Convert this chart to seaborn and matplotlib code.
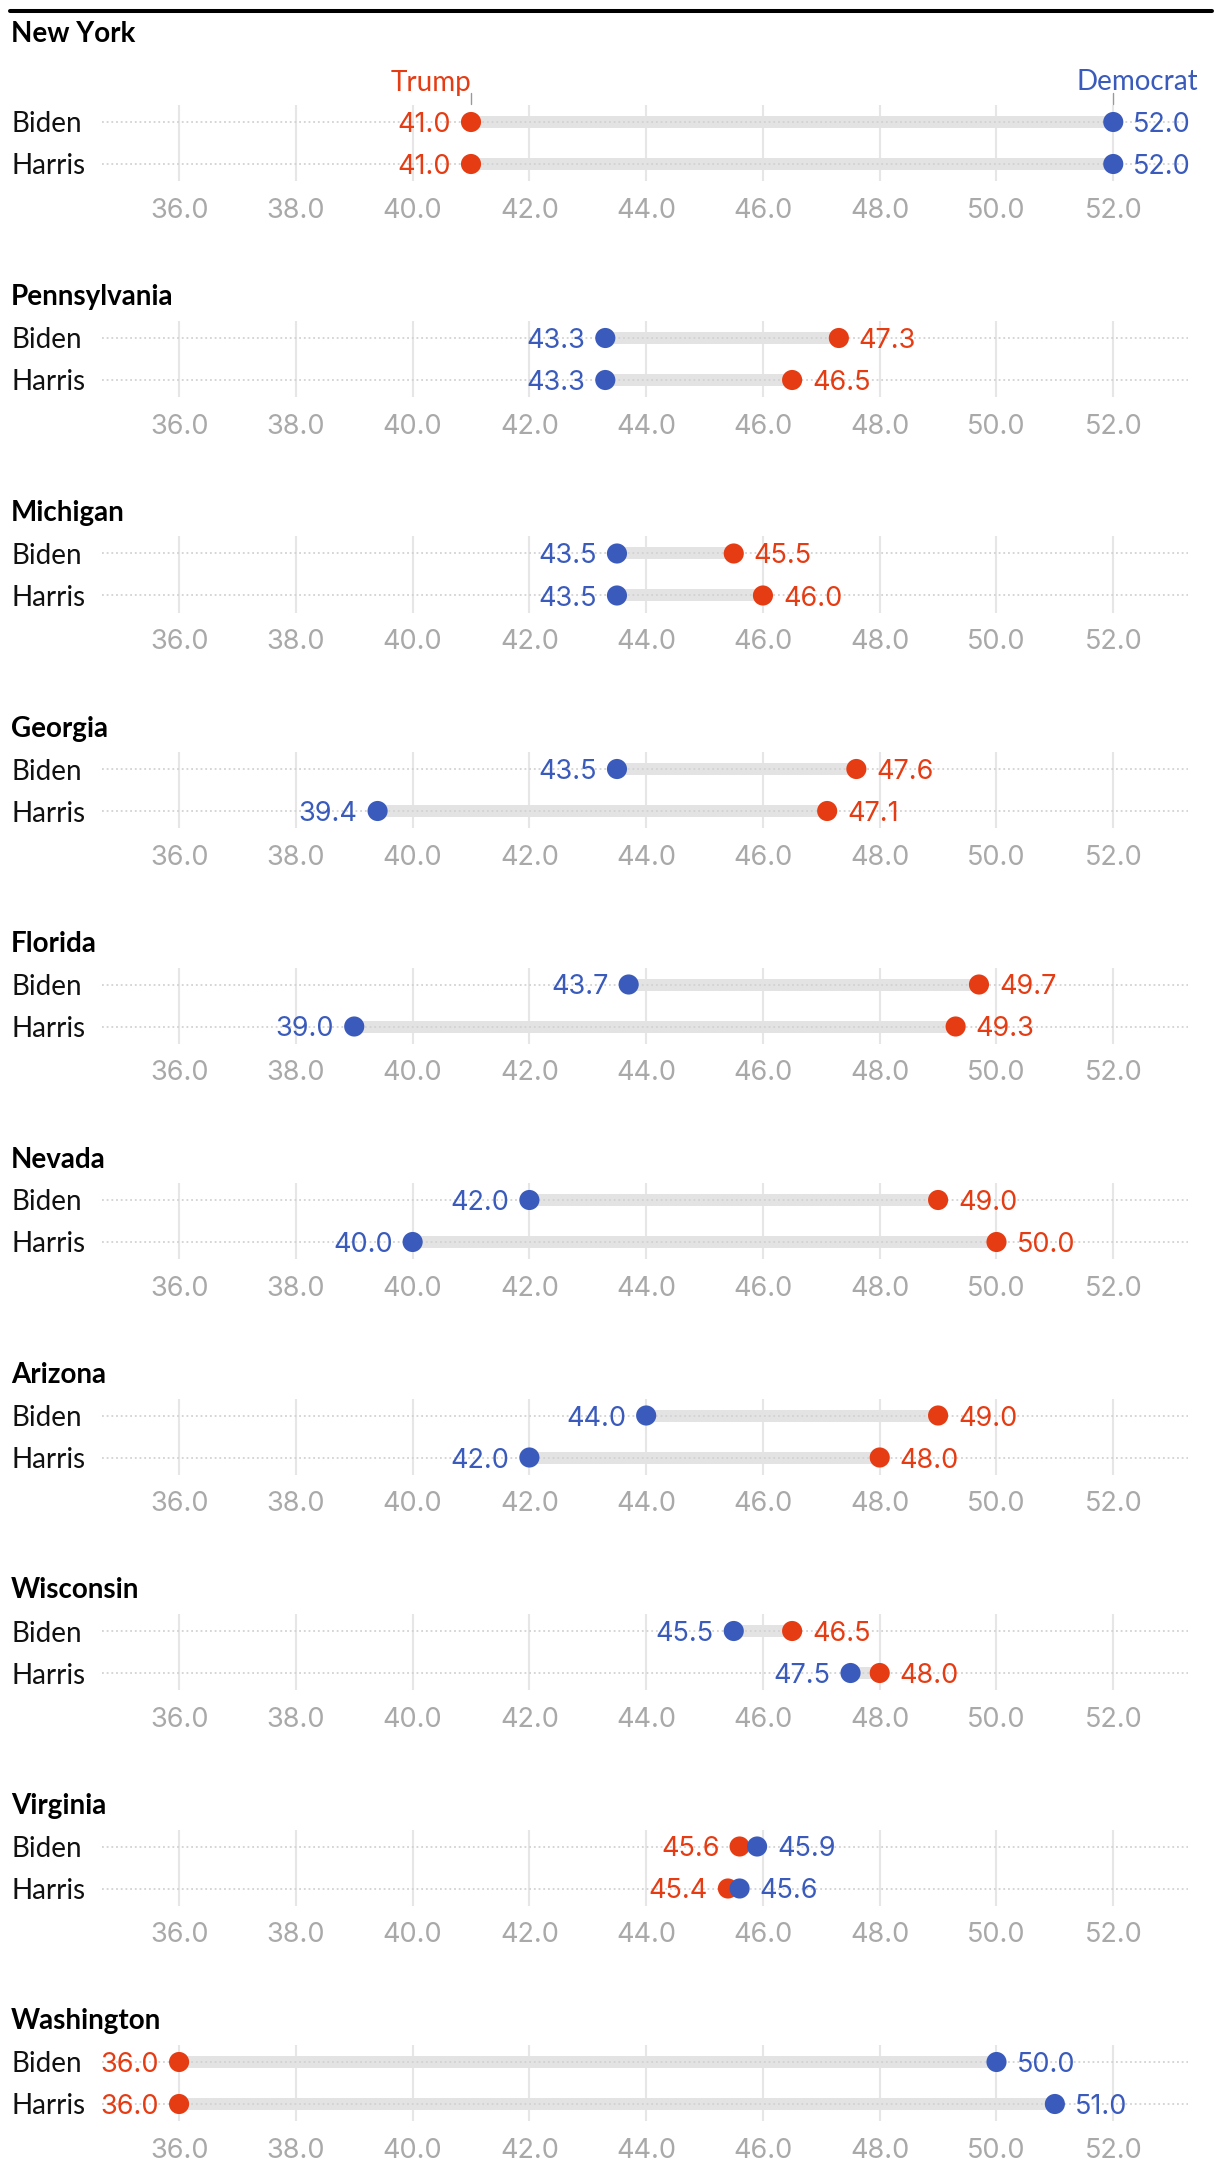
import matplotlib
matplotlib.use("Agg")
import matplotlib.pyplot as plt
import matplotlib.transforms as mtransforms
from matplotlib.lines import Line2D
import seaborn as sns
import pandas as pd

# ---------------- data ----------------
states = ["New York", "Pennsylvania", "Michigan", "Georgia", "Florida",
          "Nevada", "Arizona", "Wisconsin", "Virginia", "Washington"]
matchups = ["Biden", "Harris"]
trump_vs_biden = [41.0, 47.3, 45.5, 47.6, 49.7, 49.0, 49.0, 46.5, 45.6, 36.0]
dem_biden = [52.0, 43.3, 43.5, 43.5, 43.7, 42.0, 44.0, 45.5, 45.9, 50.0]
trump_vs_harris = [41.0, 46.5, 46.0, 47.1, 49.3, 50.0, 48.0, 48.0, 45.4, 36.0]
dem_harris = [52.0, 43.3, 43.5, 39.4, 39.0, 40.0, 42.0, 47.5, 45.6, 51.0]
x_ticks = [36.0, 38.0, 40.0, 42.0, 44.0, 46.0, 48.0, 50.0, 52.0]
tick_labels = [f"{t:.1f}" for t in x_ticks]

RED = "#e53c13"
BLUE = "#3a5bbc"
BAR = "#e3e3e3"
GRID = "#e6e6e6"
DOT = "#d2d2d2"
TICK = "#a9a9a9"
TXT = "#111111"

sns.set_theme(style="white")
plt.rcParams["font.family"] = ["Lato", "DejaVu Sans"]
NUMFONT = ["Inter", "Lato", "DejaVu Sans"]

W, H = 1220, 2172
fig = plt.figure(figsize=(W / 100, H / 100), dpi=100)

# top black rule
fig.add_artist(Line2D([10 / W, 1212 / W], [1 - 11 / H, 1 - 11 / H],
                      transform=fig.transFigure, color="black", lw=2.9))

AX_L, AX_R = 102, 1188
XLIM = (34.68, 53.28)
ROWGAP = 42.0
PADPX = 17.0

for k, st in enumerate(states):
    if k == 0:
        title_y, biden_y = 31.0, 122.0
    else:
        title_y = 295.0 + (k - 1) * 215.5
        biden_y = title_y + 43.0
    harris_y = biden_y + ROWGAP
    top = biden_y - PADPX
    bot = harris_y + PADPX
    ax = fig.add_axes([AX_L / W, 1 - bot / H, (AX_R - AX_L) / W, (bot - top) / H])
    ax.set_xlim(*XLIM)
    ax.set_ylim(1 + PADPX / ROWGAP, -PADPX / ROWGAP)

    fig.text(11 / W, 1 - title_y / H, st, fontsize=20, fontweight="bold",
             color="black", va="center_baseline", ha="left")

    rows = pd.DataFrame({
        "matchup": matchups,
        "pos": [0, 1],
        "trump": [trump_vs_biden[k], trump_vs_harris[k]],
        "dem": [dem_biden[k], dem_harris[k]],
    })
    long = pd.concat([
        rows.assign(party="Trump", value=rows["trump"]),
        rows.assign(party="Democrat", value=rows["dem"]),
    ], ignore_index=True)

    # grid & row guides
    ax.set_xticks(x_ticks)
    ax.set_xticklabels(tick_labels, fontfamily=NUMFONT)
    ax.grid(axis="x", color=GRID, lw=1.5, zorder=0)
    ax.grid(axis="y", visible=False)
    ax.set_yticks([])
    ax.tick_params(axis="x", length=0, pad=12, labelsize=19.5, labelcolor=TICK)
    for s in ax.spines.values():
        s.set_visible(False)
    ax.set_facecolor("none")

    for _, r in rows.iterrows():
        ax.axhline(r["pos"], color=DOT, lw=1.3, linestyle=(0, (1, 1.6)), zorder=2)
        lo, hi = min(r["trump"], r["dem"]), max(r["trump"], r["dem"])
        ax.plot([lo, hi], [r["pos"], r["pos"]], color=BAR, lw=8.6,
                solid_capstyle="butt", zorder=1)

    sns.scatterplot(data=long, x="value", y="pos", hue="party",
                    palette={"Trump": RED, "Democrat": BLUE},
                    hue_order=["Trump", "Democrat"], s=210, linewidth=0,
                    legend=False, ax=ax, zorder=3, clip_on=False)
    ax.set_xlabel("")
    ax.set_ylabel("")
    ax.set_xlim(*XLIM)
    ax.set_ylim(1 + PADPX / ROWGAP, -PADPX / ROWGAP)

    blend = mtransforms.blended_transform_factory(fig.transFigure, ax.transData)
    for _, r in rows.iterrows():
        ax.text(11 / W, r["pos"], r["matchup"], transform=blend, fontsize=20,
                color=TXT, ha="left", va="center_baseline")
        t, d = r["trump"], r["dem"]
        for v, col, other in [(t, RED, d), (d, BLUE, t)]:
            left = v < other or (v == other and col == RED)
            ax.annotate(f"{v:.1f}", xy=(v, r["pos"]),
                        xytext=(-14.4 if left else 14.4, 0),
                        textcoords="offset points", ha="right" if left else "left",
                        va="center_baseline", fontsize=19.5, color=col,
                        fontfamily=NUMFONT, annotation_clip=False)

    if k == 0:
        tx, dx = rows["trump"][0], rows["dem"][0]
        ax.annotate("Trump", xy=(tx, -1.0), ha="right", va="center_baseline",
                    fontsize=20, color=RED, annotation_clip=False)
        ax.annotate("Democrat", xy=(dx, -1.0), xytext=(17.3, 0),
                    textcoords="offset points", ha="center",
                    va="center_baseline", fontsize=20, color=BLUE,
                    annotation_clip=False)
        for xv in (tx, dx):
            ax.plot([xv, xv], [-0.69, -0.42], color="#999999", lw=1.0,
                    clip_on=False, zorder=4)

fig.savefig("out.png", dpi=100)
